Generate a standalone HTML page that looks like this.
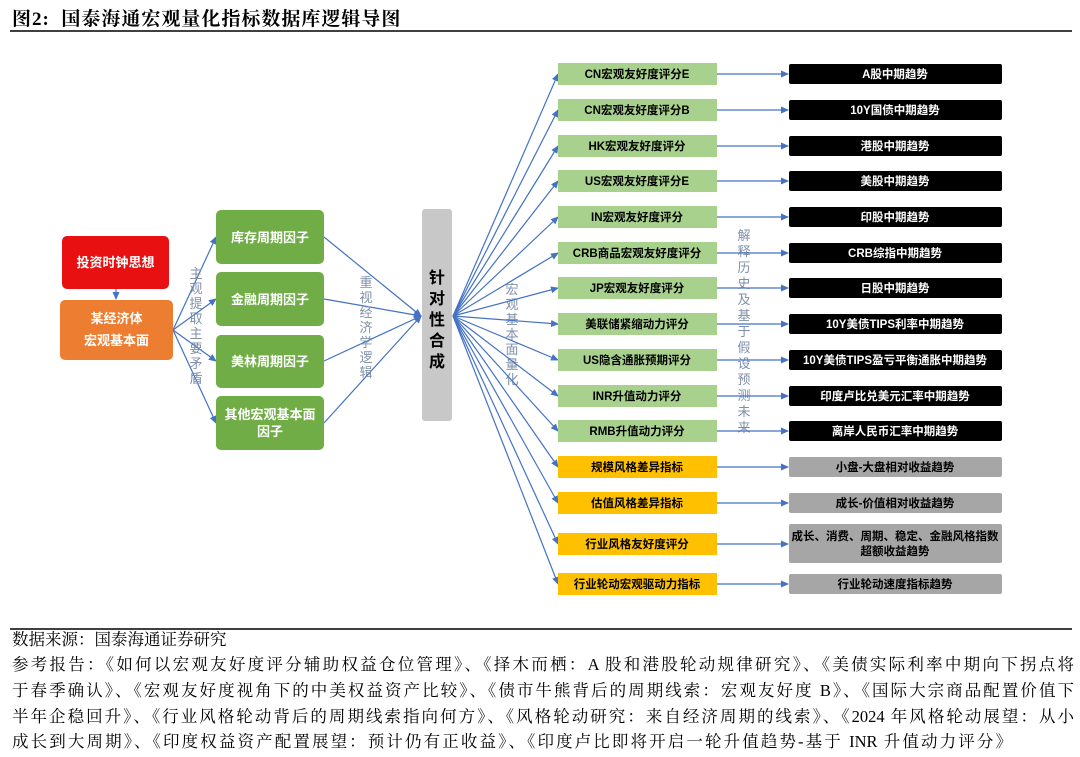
<!DOCTYPE html>
<html><head><meta charset="utf-8"><style>
body{margin:0;width:1080px;height:757px;background:#fff;position:relative;overflow:hidden;font-family:"Liberation Sans","Noto Sans CJK SC",sans-serif}
.title{position:absolute;left:12px;top:4px;font:bold 19px "Liberation Serif","Noto Serif CJK SC",serif;letter-spacing:1px}
.ft{position:absolute;left:12px;width:1062px;font:16.5px "Liberation Serif","Noto Serif CJK SC",serif;text-align:justify;text-align-last:justify;white-space:nowrap;line-height:20px}
</style></head><body>
<div class="title">图2:&nbsp; 国泰海通宏观量化指标数据库逻辑导图</div>
<svg width="1080" height="757" style="position:absolute;left:0;top:0">
<defs><marker id="a" markerWidth="8" markerHeight="8" refX="7" refY="4" orient="auto" markerUnits="userSpaceOnUse"><path d="M0,0.5 L8,4 L0,7.5z" fill="#4472C4"/></marker></defs>
<line x1="10" y1="31" x2="1072" y2="31" stroke="#000" stroke-width="1.5"/>
<line x1="10" y1="629" x2="1072" y2="629" stroke="#000" stroke-width="1.5"/>
<g stroke="#4472C4" stroke-width="1.2" fill="none">
<line x1="116" y1="289" x2="116" y2="299" marker-end="url(#a)"/>
<line x1="173" y1="330" x2="216" y2="237" marker-end="url(#a)"/>
<line x1="173" y1="330" x2="216" y2="299" marker-end="url(#a)"/>
<line x1="173" y1="330" x2="216" y2="361" marker-end="url(#a)"/>
<line x1="173" y1="330" x2="216" y2="423" marker-end="url(#a)"/>
<line x1="324" y1="237" x2="421" y2="316" marker-end="url(#a)"/>
<line x1="324" y1="299" x2="421" y2="316" marker-end="url(#a)"/>
<line x1="324" y1="361" x2="421" y2="316" marker-end="url(#a)"/>
<line x1="324" y1="423" x2="421" y2="316" marker-end="url(#a)"/>
</g>
<rect x="62" y="236" width="107" height="53" rx="5" fill="#E81010"/>
<text x="115.5" y="267" font-size="13" font-weight="bold" fill="#fff" text-anchor="middle">投资时钟思想</text>
<rect x="60" y="300" width="113" height="60" rx="5" fill="#ED7D31"/>
<text x="116.5" y="323" font-size="13" font-weight="bold" fill="#fff" text-anchor="middle">某经济体</text>
<text x="116.5" y="345" font-size="13" font-weight="bold" fill="#fff" text-anchor="middle">宏观基本面</text>
<g fill="#70AD47"><rect x="216" y="210" width="108" height="54" rx="5"/><rect x="216" y="272" width="108" height="54" rx="5"/><rect x="216" y="335" width="108" height="53" rx="5"/><rect x="216" y="396" width="108" height="54" rx="5"/></g>
<g font-size="13" font-weight="bold" fill="#fff" text-anchor="middle">
<text x="270" y="242">库存周期因子</text><text x="270" y="304">金融周期因子</text><text x="270" y="366">美林周期因子</text><text x="270" y="419">其他宏观基本面</text><text x="270" y="436">因子</text></g>
<g font-size="13" fill="#7F8FA9" text-anchor="middle">
<text x="196" y="278">主</text><text x="196" y="293">观</text><text x="196" y="308">提</text><text x="196" y="323">取</text><text x="196" y="338">主</text><text x="196" y="353">要</text><text x="196" y="368">矛</text><text x="196" y="383">盾</text>
<text x="366" y="287">重</text><text x="366" y="302">视</text><text x="366" y="317">经</text><text x="366" y="332">济</text><text x="366" y="347">学</text><text x="366" y="362">逻</text><text x="366" y="377">辑</text>
<text x="512" y="294">宏</text><text x="512" y="309">观</text><text x="512" y="324">基</text><text x="512" y="339">本</text><text x="512" y="354">面</text><text x="512" y="369">量</text><text x="512" y="384">化</text>
<text x="744" y="240">解</text><text x="744" y="256">释</text><text x="744" y="272">历</text><text x="744" y="288">史</text><text x="744" y="304">及</text><text x="744" y="320">基</text><text x="744" y="336">于</text><text x="744" y="352">假</text><text x="744" y="368">设</text><text x="744" y="384">预</text><text x="744" y="400">测</text><text x="744" y="416">未</text><text x="744" y="432">来</text>
</g>
<rect x="422" y="209" width="30" height="212" rx="3" fill="#C8C8C8"/>
<g font-size="16" font-weight="bold" fill="#000" text-anchor="middle">
<text x="437" y="283">针</text><text x="437" y="304">对</text><text x="437" y="325">性</text><text x="437" y="346">合</text><text x="437" y="367">成</text></g>
<g id="rows" font-size="11.5" font-weight="bold" text-anchor="middle">
</g>
</svg>
<script>
var rows=[[74,"CN宏观友好度评分E","A股中期趋势",0],[110,"CN宏观友好度评分B","10Y国债中期趋势",0],[146,"HK宏观友好度评分","港股中期趋势",0],[181,"US宏观友好度评分E","美股中期趋势",0],[217,"IN宏观友好度评分","印股中期趋势",0],[253,"CRB商品宏观友好度评分","CRB综指中期趋势",0],[288,"JP宏观友好度评分","日股中期趋势",0],[324,"美联储紧缩动力评分","10Y美债TIPS利率中期趋势",0],[360,"US隐含通胀预期评分","10Y美债TIPS盈亏平衡通胀中期趋势",0],[396,"INR升值动力评分","印度卢比兑美元汇率中期趋势",0],[431,"RMB升值动力评分","离岸人民币汇率中期趋势",0],[467,"规模风格差异指标","小盘-大盘相对收益趋势",1],[503,"估值风格差异指标","成长-价值相对收益趋势",1],[544,"行业风格友好度评分","",2],[584,"行业轮动宏观驱动力指标","行业轮动速度指标趋势",1]];
var s="";
rows.forEach(function(r){var y=r[0];
s+='<line x1="453" y1="316" x2="558" y2="'+y+'" stroke="#4472C4" stroke-width="1.2" marker-end="url(#a)"/>';
s+='<line x1="717" y1="'+y+'" x2="788" y2="'+y+'" stroke="#4472C4" stroke-width="1.2" marker-end="url(#a)"/>';
s+='<rect x="558" y="'+(y-11)+'" width="159" height="22" fill="'+(r[3]?'#FFC000':'#A9D18E')+'"/>';
s+='<text x="637" y="'+(y+4)+'" fill="#000">'+r[1]+'</text>';
if(r[3]==2){s+='<rect x="789" y="524" width="213" height="39" rx="2" fill="#A6A6A6"/><text x="895" y="540" fill="#000">成长、消费、周期、稳定、金融风格指数</text><text x="895" y="555" fill="#000">超额收益趋势</text>';}
else{s+='<rect x="789" y="'+(y-10)+'" width="213" height="20" rx="2" fill="'+(r[3]?'#A6A6A6':'#000')+'"/><text x="895" y="'+(y+4)+'" fill="'+(r[3]?'#000':'#fff')+'">'+r[2]+'</text>';}
});
document.getElementById("rows").innerHTML=s;
</script>
<div class="ft" style="top:630px;text-align-last:left">数据来源：国泰海通证券研究</div>
<div class="ft" style="top:655px">参考报告：《如何以宏观友好度评分辅助权益仓位管理》、《择木而栖：A 股和港股轮动规律研究》、《美债实际利率中期向下拐点将</div>
<div class="ft" style="top:681px">于春季确认》、《宏观友好度视角下的中美权益资产比较》、《债市牛熊背后的周期线索：宏观友好度 B》、《国际大宗商品配置价值下</div>
<div class="ft" style="top:707px">半年企稳回升》、《行业风格轮动背后的周期线索指向何方》、《风格轮动研究：来自经济周期的线索》、《2024 年风格轮动展望：从小</div>
<div class="ft" style="top:732px;width:1000px">成长到大周期》、《印度权益资产配置展望：预计仍有正收益》、《印度卢比即将开启一轮升值趋势-基于 INR 升值动力评分》</div>
</body></html>
